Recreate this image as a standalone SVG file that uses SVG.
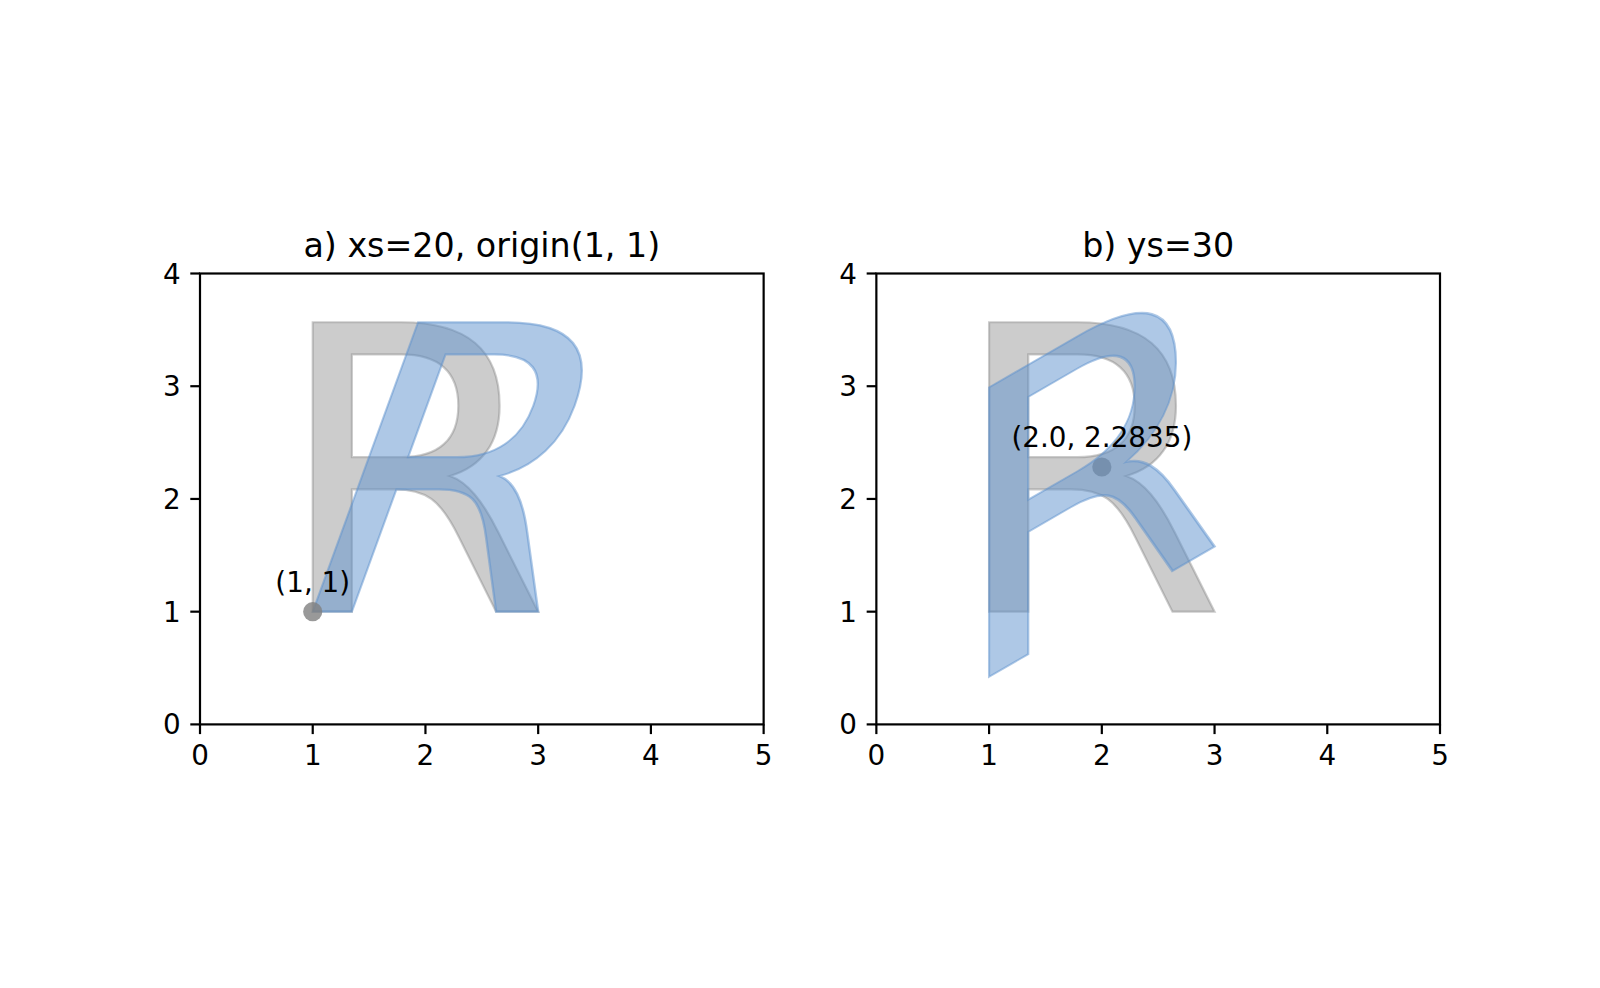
<svg xmlns="http://www.w3.org/2000/svg" width="1600" height="988" viewBox="0 0 1600 988">
<style>
text{font-family:"DejaVu Sans",sans-serif;fill:#000}
.tick{font-size:27.8px}
.xt{text-anchor:middle}
.yt{text-anchor:end}
.title{font-size:33.3px;text-anchor:middle}
.ann{font-size:27.8px;text-anchor:middle}
.glyph{font-size:397px;stroke-width:2.2;stroke-linejoin:miter}
.gray{fill:#808080;fill-opacity:0.4;stroke:#808080;stroke-opacity:0.4}
.blue{fill:rgb(93,145,205);fill-opacity:0.5;stroke:rgb(93,145,205);stroke-opacity:0.5}
.spine{fill:none;stroke:#000;stroke-width:2.2;stroke-linecap:square}
.tk{stroke:#000;stroke-width:2.2}
</style>
<rect width="1600" height="988" fill="#fff"/>

<g id="axes-a">
  <g id="glyph-a-gray"><text class="glyph gray" x="273.77" y="611.7">R</text></g>
  <g id="glyph-a-blue"><text class="glyph blue" x="273.77" y="611.7" transform="translate(312.73 611.7) skewX(-20) translate(-312.73 -611.7)">R</text></g>
  <g id="point-a"><circle cx="312.73" cy="611.7" r="9.6" fill="#808080" fill-opacity="0.8"/>
  <text class="ann" x="312.73" y="592">(1, 1)</text></g>
  <rect class="spine" x="200" y="273.5" width="563.64" height="450.9"/>
  <g class="tk">
    <line x1="200" y1="724.4" x2="200" y2="734.1"/>
    <line x1="312.73" y1="724.4" x2="312.73" y2="734.1"/>
    <line x1="425.45" y1="724.4" x2="425.45" y2="734.1"/>
    <line x1="538.18" y1="724.4" x2="538.18" y2="734.1"/>
    <line x1="650.91" y1="724.4" x2="650.91" y2="734.1"/>
    <line x1="763.64" y1="724.4" x2="763.64" y2="734.1"/>
    <line x1="200" y1="724.4" x2="190.3" y2="724.4"/>
    <line x1="200" y1="611.67" x2="190.3" y2="611.67"/>
    <line x1="200" y1="498.95" x2="190.3" y2="498.95"/>
    <line x1="200" y1="386.22" x2="190.3" y2="386.22"/>
    <line x1="200" y1="273.5" x2="190.3" y2="273.5"/>
  </g>
  <g class="tick xt">
    <text x="200" y="764.9">0</text>
    <text x="312.73" y="764.9">1</text>
    <text x="425.45" y="764.9">2</text>
    <text x="538.18" y="764.9">3</text>
    <text x="650.91" y="764.9">4</text>
    <text x="763.64" y="764.9">5</text>
  </g>
  <g class="tick yt">
    <text x="180.6" y="734.4">0</text>
    <text x="180.6" y="621.67">1</text>
    <text x="180.6" y="508.95">2</text>
    <text x="180.6" y="396.22">3</text>
    <text x="180.6" y="283.5">4</text>
  </g>
  <text class="title" x="481.82" y="256.8">a) xs=20, origin(1, 1)</text>
</g>

<g id="axes-b">
  <g id="glyph-b-gray"><text class="glyph gray" x="950.13" y="611.7">R</text></g>
  <g id="point-b"><circle cx="1101.82" cy="466.99" r="9.6" fill="#808080" fill-opacity="0.8"/></g>
  <g id="glyph-b-blue"><text class="glyph blue" x="950.13" y="611.7" transform="translate(1101.82 466.99) skewY(-30) translate(-1101.82 -466.99)">R</text></g>
  <text class="ann" x="1101.82" y="447.3">(2.0, 2.2835)</text>
  <rect class="spine" x="876.36" y="273.5" width="563.64" height="450.9"/>
  <g class="tk">
    <line x1="876.36" y1="724.4" x2="876.36" y2="734.1"/>
    <line x1="989.09" y1="724.4" x2="989.09" y2="734.1"/>
    <line x1="1101.82" y1="724.4" x2="1101.82" y2="734.1"/>
    <line x1="1214.55" y1="724.4" x2="1214.55" y2="734.1"/>
    <line x1="1327.27" y1="724.4" x2="1327.27" y2="734.1"/>
    <line x1="1440" y1="724.4" x2="1440" y2="734.1"/>
    <line x1="876.36" y1="724.4" x2="866.66" y2="724.4"/>
    <line x1="876.36" y1="611.67" x2="866.66" y2="611.67"/>
    <line x1="876.36" y1="498.95" x2="866.66" y2="498.95"/>
    <line x1="876.36" y1="386.22" x2="866.66" y2="386.22"/>
    <line x1="876.36" y1="273.5" x2="866.66" y2="273.5"/>
  </g>
  <g class="tick xt">
    <text x="876.36" y="764.9">0</text>
    <text x="989.09" y="764.9">1</text>
    <text x="1101.82" y="764.9">2</text>
    <text x="1214.55" y="764.9">3</text>
    <text x="1327.27" y="764.9">4</text>
    <text x="1440" y="764.9">5</text>
  </g>
  <g class="tick yt">
    <text x="856.96" y="734.4">0</text>
    <text x="856.96" y="621.67">1</text>
    <text x="856.96" y="508.95">2</text>
    <text x="856.96" y="396.22">3</text>
    <text x="856.96" y="283.5">4</text>
  </g>
  <text class="title" x="1158.18" y="256.8">b) ys=30</text>
</g>
</svg>
